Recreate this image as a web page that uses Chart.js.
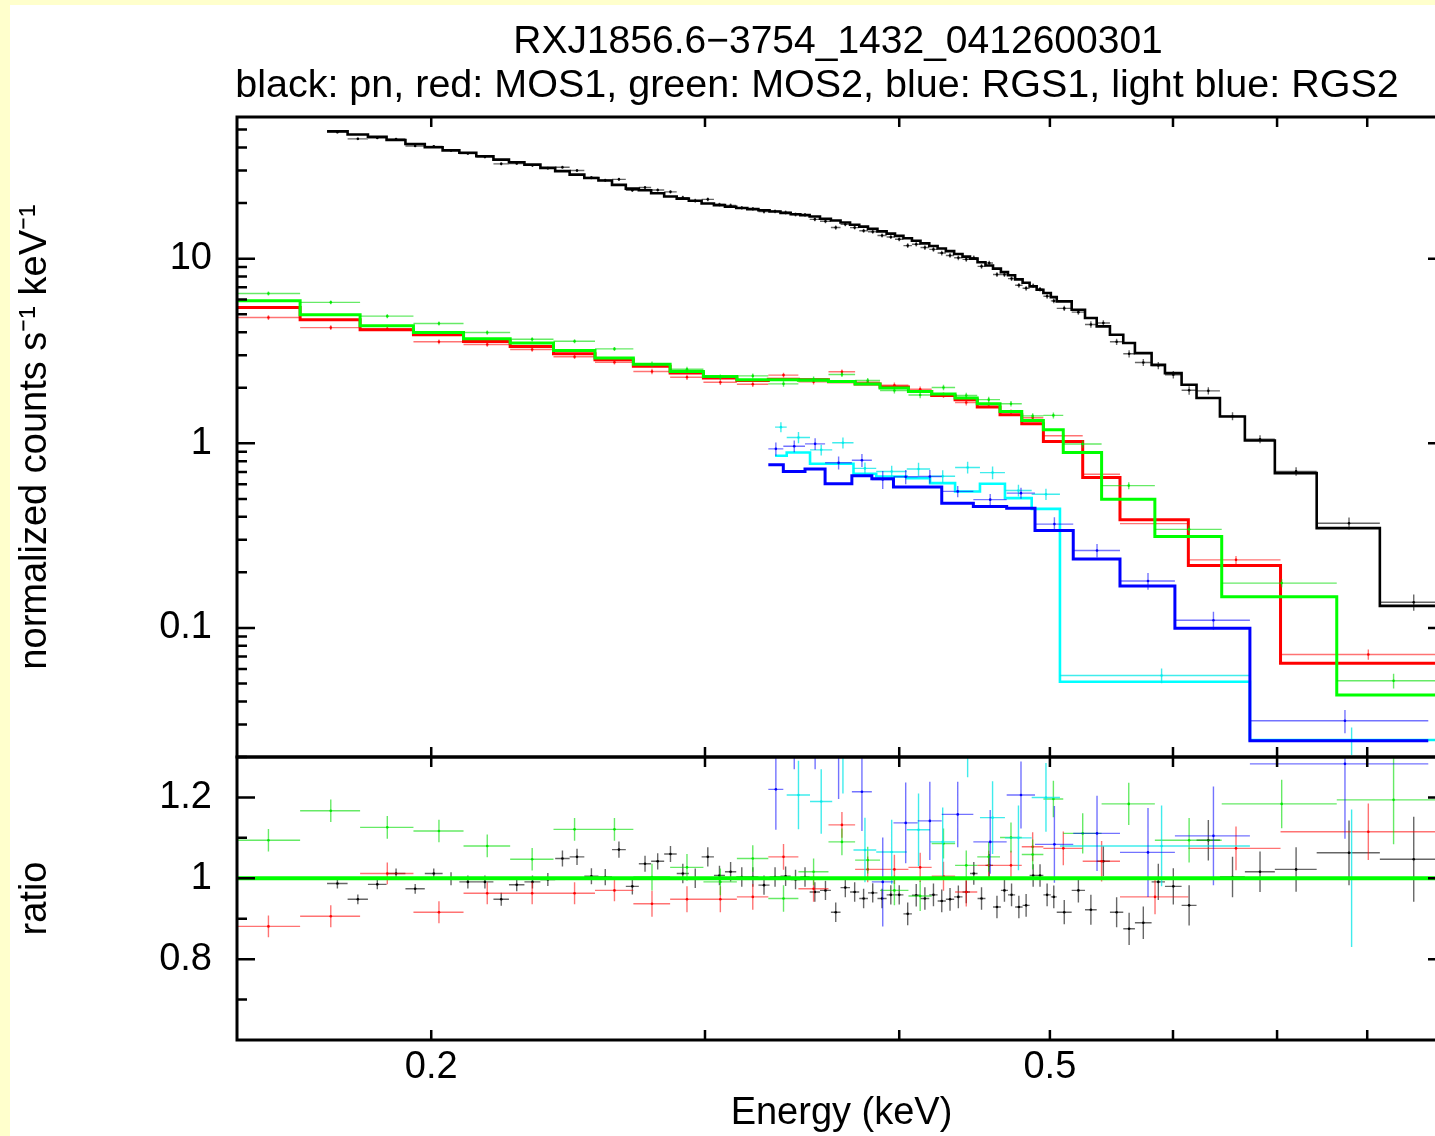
<!DOCTYPE html>
<html lang="en">
<head>
<meta charset="UTF-8">
<title>RXJ1856.6-3754 spectrum</title>
<script src="https://cdn.jsdelivr.net/npm/chart.js"></script>
<style>
  html, body { margin: 0; padding: 0; overflow: hidden; background: #ffffcc; }
  #frame { position: absolute; left: 10px; top: 5px; width: 1460px; height: 1131px; background: #fff; }
</style>
</head>
<body>
<div id="frame"><canvas id="spec"></canvas></div>
<script>
// ---- values, energies in keV ----
// EPIC pn (black)
const pnEdges = [0.1714, 0.1767, 0.1821, 0.1872, 0.1925, 0.1981, 0.2034, 0.2085, 0.2138, 0.2193,
  0.2244, 0.2296, 0.2351, 0.2403, 0.2455, 0.2509, 0.2562, 0.2614, 0.2668, 0.2720,
  0.2770, 0.2824, 0.2877, 0.2929, 0.2985, 0.3040, 0.3090, 0.3142, 0.3194, 0.3247,
  0.3301, 0.3355, 0.3406, 0.3455, 0.3503, 0.3557, 0.3615, 0.3667, 0.3719, 0.3770,
  0.3819, 0.3873, 0.3926, 0.3975, 0.4025, 0.4076, 0.4128, 0.4182, 0.4234, 0.4286,
  0.4339, 0.4393, 0.4442, 0.4492, 0.4545, 0.4596, 0.4650, 0.4699, 0.4749, 0.4802,
  0.4852, 0.4903, 0.4952, 0.5007, 0.5051, 0.5164, 0.5267, 0.5359, 0.5465, 0.5574,
  0.5671, 0.5813, 0.5929, 0.6077, 0.6213, 0.6432, 0.6674, 0.6977, 0.7423, 0.8151, 0.8990];
const pnModel = [49.0, 47.0, 45.7, 43.9, 41.8, 40.1, 38.6, 37.45, 35.85, 34.4,
  33.3, 32.3, 31.0, 29.8, 28.5, 27.35, 26.5, 25.1, 23.95, 23.45,
  22.6, 21.7, 21.15, 20.6, 19.9, 19.5, 19.1, 18.8, 18.55, 18.3,
  18.0, 17.7, 17.4, 17.2, 16.9, 16.45, 16.1, 15.7, 15.25, 14.9,
  14.5, 14.05, 13.67, 13.28, 12.9, 12.5, 12.1, 11.7, 11.36, 10.98,
  10.6, 10.26, 10.0, 9.56, 9.18, 8.83, 8.45, 8.13, 7.72, 7.41,
  7.08, 6.79, 6.52, 6.19, 5.87, 5.29, 4.77, 4.30, 3.87, 3.49,
  3.08, 2.66, 2.40, 2.075, 1.758, 1.397, 1.036, 0.689, 0.347, 0.1316];
const pnRatio = [0.987, 0.948, 0.985, 1.012, 0.974, 1.012, 0.999, 0.991, 0.991, 0.948,
  0.984, 0.991, 0.997, 1.049, 1.053, 1.005, 1.003, 1.071, 0.980, 1.036,
  1.042, 1.060, 1.012, 1.000, 1.053, 1.007, 1.016, 1.003, 1.003, 0.983,
  1.003, 1.005, 0.997, 1.003, 0.966, 0.970, 0.916, 0.977, 0.966, 0.950,
  0.964, 0.950, 0.959, 0.959, 0.912, 0.958, 0.950, 0.959, 0.944, 0.948,
  0.954, 0.966, 1.012, 0.950, 1.032, 0.929, 0.970, 0.959, 0.929, 0.933,
  1.007, 1.007, 0.959, 0.954, 0.916, 0.970, 0.922, 1.042, 0.916, 0.875,
  0.890, 0.991, 0.980, 0.933, 1.094, 1.003, 1.016, 1.022, 1.063, 1.047];
const pnRatioErr = [0.012, 0.012, 0.012, 0.012, 0.012, 0.012, 0.016, 0.016, 0.016, 0.016,
  0.016, 0.016, 0.016, 0.020, 0.020, 0.020, 0.020, 0.020, 0.020, 0.020,
  0.020, 0.020, 0.024, 0.024, 0.024, 0.024, 0.024, 0.024, 0.024, 0.024,
  0.024, 0.024, 0.024, 0.024, 0.024, 0.024, 0.024, 0.024, 0.024, 0.024,
  0.024, 0.024, 0.024, 0.024, 0.028, 0.028, 0.028, 0.028, 0.028, 0.028,
  0.028, 0.028, 0.028, 0.028, 0.028, 0.028, 0.028, 0.028, 0.028, 0.028,
  0.028, 0.028, 0.028, 0.028, 0.030, 0.030, 0.037, 0.037, 0.037, 0.040,
  0.040, 0.045, 0.045, 0.050, 0.050, 0.050, 0.050, 0.055, 0.080, 0.105];

// MOS1 (red)
const mos1Edges = [0.1496, 0.1647, 0.1800, 0.1948, 0.2098, 0.2248, 0.2397, 0.2549, 0.2698, 0.2849,
  0.2993, 0.3145, 0.3295, 0.3445, 0.3602, 0.3747, 0.3888, 0.4055, 0.4197, 0.4345,
  0.4490, 0.4644, 0.4796, 0.4952, 0.5249, 0.5547, 0.6138, 0.7036, 0.8990];
const mos1Model = [5.445, 4.671, 4.123, 3.874, 3.563, 3.347, 3.056, 2.835, 2.614, 2.402,
  2.257, 2.190, 2.223, 2.209, 2.154, 2.094, 2.017, 1.909, 1.816, 1.721,
  1.571, 1.427, 1.276, 1.023, 0.6527, 0.3849, 0.2177, 0.0644];
const mos1Ratio = [0.881, 0.906, 1.012, 0.916, 0.963, 0.963, 0.963, 0.970, 0.937, 0.948,
  0.948, 0.954, 1.053, 0.974, 1.132, 1.022, 1.022, 1.027, 1.005, 0.966,
  1.032, 1.032, 1.078, 1.074, 1.042, 0.954, 1.074, 1.115];
const mos1RatioErr = [0.027, 0.027, 0.027, 0.027, 0.027, 0.027, 0.027, 0.027, 0.032, 0.032,
  0.032, 0.032, 0.032, 0.032, 0.032, 0.032, 0.036, 0.036, 0.036, 0.036,
  0.036, 0.036, 0.036, 0.042, 0.050, 0.043, 0.054, 0.070];

// MOS2 (green)
const mos2Edges = [0.1496, 0.1647, 0.1800, 0.1948, 0.2098, 0.2248, 0.2397, 0.2549, 0.2698, 0.2849,
  0.2993, 0.3145, 0.3295, 0.3445, 0.3602, 0.3747, 0.3888, 0.4055, 0.4197, 0.4345,
  0.4490, 0.4644, 0.4796, 0.4952, 0.5100, 0.5398, 0.5841, 0.6449, 0.7647, 0.8990];
const mos2Model = [5.92, 4.97, 4.335, 3.986, 3.685, 3.493, 3.184, 2.895, 2.681, 2.450,
  2.302, 2.209, 2.209, 2.195, 2.163, 2.094, 1.992, 1.909, 1.848, 1.758,
  1.637, 1.487, 1.329, 1.184, 0.8914, 0.4982, 0.3126, 0.1477, 0.04334];
const mos2Ratio = [1.094, 1.167, 1.126, 1.117, 1.080, 1.047, 1.121, 1.121, 1.003, 1.027,
  0.991, 1.049, 0.950, 1.016, 1.090, 1.045, 0.970, 0.956, 1.086, 1.032,
  1.053, 1.101, 1.059, 1.196, 1.111, 1.184, 1.094, 1.184, 1.194];
const mos2RatioErr = [0.028, 0.028, 0.028, 0.028, 0.028, 0.028, 0.028, 0.028, 0.033, 0.033,
  0.033, 0.033, 0.033, 0.033, 0.033, 0.033, 0.037, 0.037, 0.037, 0.037,
  0.037, 0.037, 0.037, 0.045, 0.050, 0.052, 0.055, 0.060, 0.110];

// RGS1 (blue)
const rgs1Edges = [0.3295, 0.3369, 0.3479, 0.3584, 0.3729, 0.3841, 0.3966, 0.4111, 0.4260,
  0.4464, 0.4690, 0.4891, 0.5176, 0.5547, 0.6017, 0.6724, 0.8757];
const rgs1Model = [0.7647, 0.7035, 0.7248, 0.6034, 0.6665, 0.6421, 0.5790, 0.5790,
  0.4741, 0.4544, 0.4454, 0.3368, 0.2366, 0.1689, 0.0996, 0.0245];
const rgs1Ratio = [1.22, 1.37, 1.37, 1.30, 1.214, 0.991, 1.137, 1.142,
  1.158, 1.090, 1.206, 1.084, 1.111, 1.064, 1.105, 1.283];
const rgs1RatioErr = [0.100, 0.100, 0.100, 0.104, 0.097, 0.110, 0.100, 0.097,
  0.081, 0.079, 0.083, 0.095, 0.093, 0.110, 0.122, 0.185];

// RGS2 (light blue)
const rgs2Edges = [0.3328, 0.3386, 0.3505, 0.3622, 0.3738, 0.3866, 0.4045, 0.4187,
  0.4345, 0.4508, 0.4678, 0.4867, 0.5075, 0.6724, 0.8910];
const rgs2Model = [0.8554, 0.8914, 0.7743, 0.7743, 0.6834, 0.6609, 0.6477,
  0.6087, 0.5481, 0.6034, 0.5047, 0.4416, 0.05115, 0.0247];
const rgs2Ratio = [1.43, 1.206, 1.19, 1.30, 1.07, 1.065, 1.12,
  1.09, 1.35, 1.15, 1.10, 1.20, 1.08, 1.00];
const rgs2RatioErr = [0.090, 0.085, 0.080, 0.090, 0.080, 0.080, 0.090,
  0.085, 0.100, 0.090, 0.080, 0.085, 0.100, 0.170];

// axes
const energyRange = [0.15, 0.899];
const countsRange = [0.02, 58.5];
const ratioRange = [0.6, 1.3];
const energyTickLabels = [0.2, 0.5];
const energyTickMarks = [0.2, 0.3, 0.4, 0.5, 0.6, 0.7, 0.8];
const countsTickLabels = [0.1, 1, 10];
const ratioTickLabels = [0.8, 1, 1.2];
const ratioMinorTicks = [0.7, 0.9, 1.1];
const titleLines = ['RXJ1856.6\u22123754_1432_0412600301',
  'black: pn, red: MOS1, green: MOS2, blue: RGS1, light blue: RGS2'];

const FONT = '"Liberation Sans", Arial, Helvetica, sans-serif';
const TOP_H = 640, RATIO_H = 283;

// drawing order: later entries end up on top
const instruments = [
  { edges: pnEdges, model: pnModel, ratio: pnRatio, err: pnRatioErr, color: '#000000', errColor: 'rgba(0,0,0,0.6)', width: 2.6 },
  { edges: mos1Edges, model: mos1Model, ratio: mos1Ratio, err: mos1RatioErr, color: '#ff0000', errColor: 'rgba(255,0,0,0.55)', width: 3 },
  { edges: mos2Edges, model: mos2Model, ratio: mos2Ratio, err: mos2RatioErr, color: '#00ff00', errColor: 'rgba(0,220,0,0.6)', width: 3 },
  { edges: rgs2Edges, model: rgs2Model, ratio: rgs2Ratio, err: rgs2RatioErr, color: '#00ffff', errColor: 'rgba(0,230,230,0.75)', width: 2.6 },
  { edges: rgs1Edges, model: rgs1Model, ratio: rgs1Ratio, err: rgs1RatioErr, color: '#0000ff', errColor: 'rgba(0,0,255,0.55)', width: 3 }
];

// model as histogram: one flat segment per bin
function histogram(edges, model) {
  const pts = [];
  model.forEach((m, i) => {
    pts.push({ x: edges[i], y: m });
    pts.push({ x: edges[i + 1], y: m });
  });
  return pts;
}

// data = model * ratio in top panel, ratio itself in bottom panel
function crosses(inst, asRatio) {
  return inst.ratio.map((r, i) => {
    const lo = inst.edges[i], hi = inst.edges[i + 1];
    const k = asRatio ? 1 : inst.model[i];
    return { x: (lo + hi) / 2, y: k * r, xlo: lo, xhi: hi, ylo: k * (r - inst.err[i]), yhi: k * (r + inst.err[i]) };
  });
}

const datasets = [];
instruments.forEach(inst => {
  datasets.push({ type: 'line', data: histogram(inst.edges, inst.model), yAxisID: 'y',
    borderColor: inst.color, borderWidth: inst.width, pointRadius: 0, fill: false, tension: 0 });
  datasets.push({ type: 'scatter', data: crosses(inst, false), yAxisID: 'y',
    pointRadius: 1.3, backgroundColor: inst.color, borderWidth: 0, errorColor: inst.errColor });
  datasets.push({ type: 'scatter', data: crosses(inst, true), yAxisID: 'yr',
    pointRadius: 1.3, backgroundColor: inst.color, borderWidth: 0, errorColor: inst.errColor });
});
datasets.reverse(); // first dataset is drawn on top
datasets.unshift({ type: 'line', yAxisID: 'yr', borderColor: '#00ff00', borderWidth: 4, pointRadius: 0,
  data: [{ x: mos2Edges[0], y: 1 }, { x: mos2Edges[mos2Edges.length - 1], y: 1 }] });

const errorBars = {
  id: 'errorBars',
  afterDatasetDraw(chart, args) {
    const ds = chart.data.datasets[args.index];
    if (!ds.errorColor) return;
    const xs = chart.scales.x, ys = chart.scales[ds.yAxisID], a = chart.chartArea;
    const ctx = chart.ctx;
    ctx.save();
    ctx.beginPath();
    ctx.rect(a.left, ys.top, a.right - a.left, ys.bottom - ys.top);
    ctx.clip();
    ctx.strokeStyle = ds.errorColor;
    ctx.lineWidth = 1.4;
    ctx.beginPath();
    ds.data.forEach(p => {
      const cx = xs.getPixelForValue(p.x), cy = ys.getPixelForValue(p.y);
      ctx.moveTo(xs.getPixelForValue(p.xlo), cy);
      ctx.lineTo(xs.getPixelForValue(p.xhi), cy);
      ctx.moveTo(cx, ys.getPixelForValue(p.ylo));
      ctx.lineTo(cx, ys.getPixelForValue(p.yhi));
    });
    ctx.stroke();
    ctx.restore();
  }
};

// boxes round both panels with inward ticks on every side
const panelFrame = {
  id: 'panelFrame',
  afterDraw(chart) {
    const { ctx, chartArea: a } = chart;
    const { x, y, yr } = chart.scales;
    const line = (x1, y1, x2, y2) => { ctx.moveTo(x1, y1); ctx.lineTo(x2, y2); };
    ctx.save();
    ctx.strokeStyle = '#000';
    ctx.lineWidth = 2.5;
    ctx.beginPath();
    energyTickMarks.forEach(v => {
      const px = x.getPixelForValue(v);
      [y, yr].forEach(s => { line(px, s.top, px, s.top + 10); line(px, s.bottom, px, s.bottom - 10); });
    });
    const yTick = (s, v, len) => {
      const py = s.getPixelForValue(v);
      line(a.left, py, a.left + len, py);
      line(a.right, py, a.right - len, py);
    };
    [0.01, 0.1, 1, 10].forEach(dec => {
      for (let k = 1; k <= 9; k++) {
        const v = k * dec;
        if (v < countsRange[0] || v > countsRange[1]) continue;
        yTick(y, v, k === 1 ? 18 : 10);
      }
    });
    ratioTickLabels.forEach(v => yTick(yr, v, 18));
    ratioMinorTicks.forEach(v => yTick(yr, v, 10));
    ctx.stroke();
    ctx.lineWidth = 3;
    [y, yr].forEach(s => ctx.strokeRect(a.left, s.top, a.right - a.left, s.bottom - s.top));
    ctx.restore();
  }
};

const plotTitle = {
  id: 'plotTitle',
  afterDraw(chart) {
    const ctx = chart.ctx;
    ctx.save();
    ctx.fillStyle = '#000';
    ctx.textAlign = 'center';
    ctx.textBaseline = 'alphabetic';
    ctx.font = '39px ' + FONT;
    ctx.fillText(titleLines[0], 828, 48);
    ctx.font = '39.5px ' + FONT;
    ctx.fillText(titleLines[1], 807, 92);
    ctx.restore();
  }
};

const tickFont = { family: FONT, size: 38 };
const titleFont = { family: FONT, size: 38 };

new Chart(document.getElementById('spec'), {
  type: 'scatter',
  data: { datasets },
  options: {
    responsive: true,
    maintainAspectRatio: false,
    animation: false,
    devicePixelRatio: 1,
    events: [],
    layout: { padding: { top: 112, right: 24, bottom: 0, left: 0 } },
    plugins: { legend: { display: false }, tooltip: { enabled: false } },
    scales: {
      x: {
        type: 'logarithmic', position: 'bottom', min: energyRange[0], max: energyRange[1],
        afterBuildTicks: s => { s.ticks = energyTickLabels.map(v => ({ value: v })); },
        afterFit: s => { s.height = 96; },
        ticks: { font: tickFont, color: '#000', padding: 5, maxRotation: 0, autoSkip: false, callback: v => String(v) },
        grid: { display: false, drawTicks: false },
        border: { display: false },
        title: { display: true, text: 'Energy (keV)', font: titleFont, color: '#000', padding: { top: 0, bottom: 0 } }
      },
      yr: {
        type: 'linear', position: 'left', stack: 'panels', stackWeight: RATIO_H,
        min: ratioRange[0], max: ratioRange[1],
        afterBuildTicks: s => { s.ticks = ratioTickLabels.map(v => ({ value: v })); },
        afterFit: s => { s.width = 227; },
        ticks: { font: tickFont, color: '#000', padding: 25, autoSkip: false, callback: v => String(v) },
        grid: { display: false, drawTicks: false },
        border: { display: false },
        title: { display: true, text: 'ratio', font: titleFont, color: '#000', padding: { top: 3, bottom: 0 } }
      },
      y: {
        type: 'logarithmic', position: 'left', stack: 'panels', stackWeight: TOP_H,
        min: countsRange[0], max: countsRange[1],
        afterBuildTicks: s => { s.ticks = countsTickLabels.map(v => ({ value: v })); },
        afterFit: s => { s.width = 227; },
        ticks: { font: tickFont, color: '#000', padding: 25, autoSkip: false, callback: v => String(v) },
        grid: { display: false, drawTicks: false },
        border: { display: false },
        title: { display: true, text: 'normalized counts s\u207B\u00B9 keV\u207B\u00B9', font: titleFont, color: '#000', padding: { top: 3, bottom: 0 } }
      }
    }
  },
  plugins: [errorBars, panelFrame, plotTitle]
});
</script>
</body>
</html>
